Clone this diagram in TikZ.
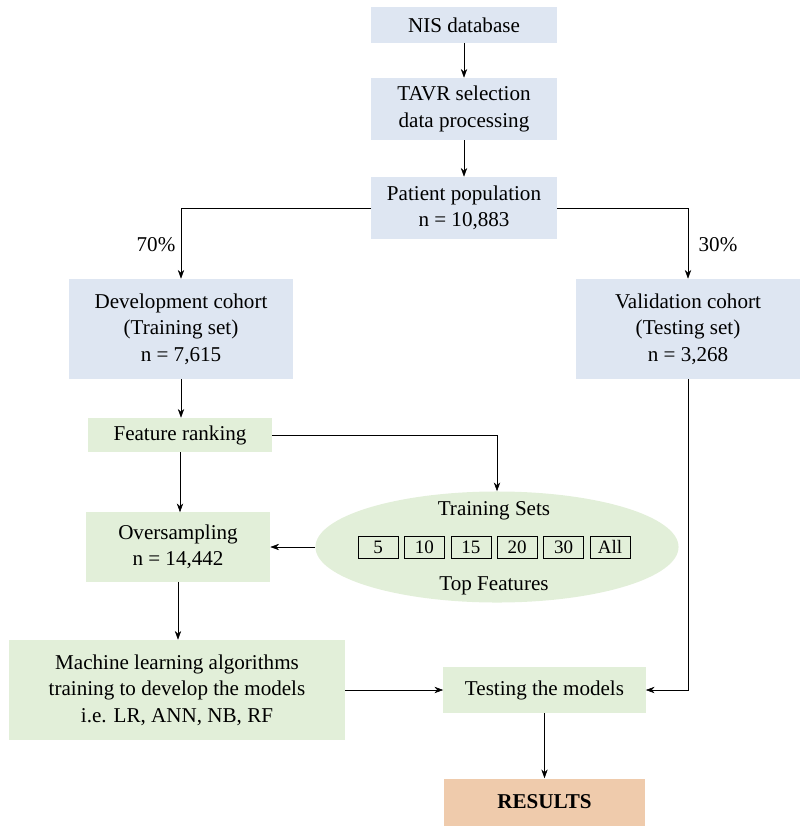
\documentclass[tikz,border=0pt]{standalone}
\usepackage{fontspec}
\setmainfont{Liberation Serif}
\usetikzlibrary{shapes.geometric,arrows.meta}
\definecolor{cohortblue}{HTML}{DEE6F2}
\definecolor{stagegreen}{HTML}{E2EFD9}
\definecolor{resultorange}{HTML}{EFCBAC}
\begin{document}
\begin{tikzpicture}[
    x=0.025cm, y=-0.025cm,
    every node/.style={font=\fontsize{15}{18.8}\selectfont},
    cohort/.style={fill=cohortblue, inner sep=0pt, align=center},
    stage/.style={fill=stagegreen, inner sep=0pt, align=center},
    outcome/.style={fill=resultorange, inner sep=0pt, align=center, font=\fontsize{15}{18.8}\selectfont\bfseries},
    topbox/.style={draw, thin, minimum width=1.0cm, minimum height=0.55cm, inner sep=0pt, font=\fontsize{13.5}{15}\selectfont},
    flow/.style={-{Stealth[length=2.2mm,width=1.6mm]}, thin},
]
\useasboundingbox (0,0) rectangle (800,833);
% top of the flow
\node[cohort, minimum width=4.625cm, minimum height=0.875cm] (nis) at (464,25) {NIS database};
\node[cohort, minimum width=4.625cm, minimum height=1.55cm] (tavr) at (464,109) {TAVR selection\\data processing};
\node[cohort, minimum width=4.625cm, minimum height=1.55cm] (pop) at (464,208) {Patient population\\n = 10,883};
\draw[flow] (nis) -- (tavr);
\draw[flow] (tavr) -- (pop);
% split 70 / 30
\node[cohort, minimum width=5.6cm, minimum height=2.5cm] (dev) at (181,329) {Development cohort\\(Training set)\\n = 7,615};
\node[cohort, minimum width=5.6cm, minimum height=2.5cm] (val) at (688,329) {Validation cohort\\(Testing set)\\n = 3,268};
\draw[flow] (pop.west) -| (dev.north);
\draw[flow] (pop.east) -| (val.north);
\node (p70) at (156,245) {70\%};
\node (p30) at (718,245) {30\%};
% training branch
\node[stage, minimum width=4.6cm, minimum height=0.85cm] (feat) at (180,435) {Feature ranking};
\node[stage, minimum width=4.6cm, minimum height=1.725cm] (over) at (178,547) {Oversampling\\n = 14,442};
\node[ellipse, fill=stagegreen, minimum width=9.075cm, minimum height=2.775cm, inner sep=0pt] (sets) at (497,547) {};
\node (setslbl) at (494,511) {Training Sets};
\foreach \k [count=\i] in {5,10,15,20,30,All}
  \node[topbox] (top\i) at ({378+46.4*(\i-1)},547) {\k};
\node (toplbl) at (494,586) {Top Features};
\draw[flow] (dev.south) -- (dev.south |- feat.north);
\draw[flow] (feat.east) -| (sets.north);
\draw[flow] (feat.south) -- (feat.south |- over.north);
\draw[flow] (sets.west) -- (over.east);
% models and results
\node[stage, minimum width=8.4cm, minimum height=2.5cm] (ml) at (177,690) {Machine learning algorithms\\training to develop the models\\i.e. LR, ANN, NB, RF};
\node[stage, minimum width=5.05cm, minimum height=1.15cm] (test) at (544.5,690) {Testing the models};
\node[outcome, minimum width=5.025cm, minimum height=1.175cm] (res) at (544.5,802) {RESULTS};
\draw[flow] (over.south) -- (over.south |- ml.north);
\draw[flow] (ml) -- (test);
\draw[flow] (val.south) |- (test.east);
\draw[flow] (test) -- (res);
\end{tikzpicture}
\end{document}
